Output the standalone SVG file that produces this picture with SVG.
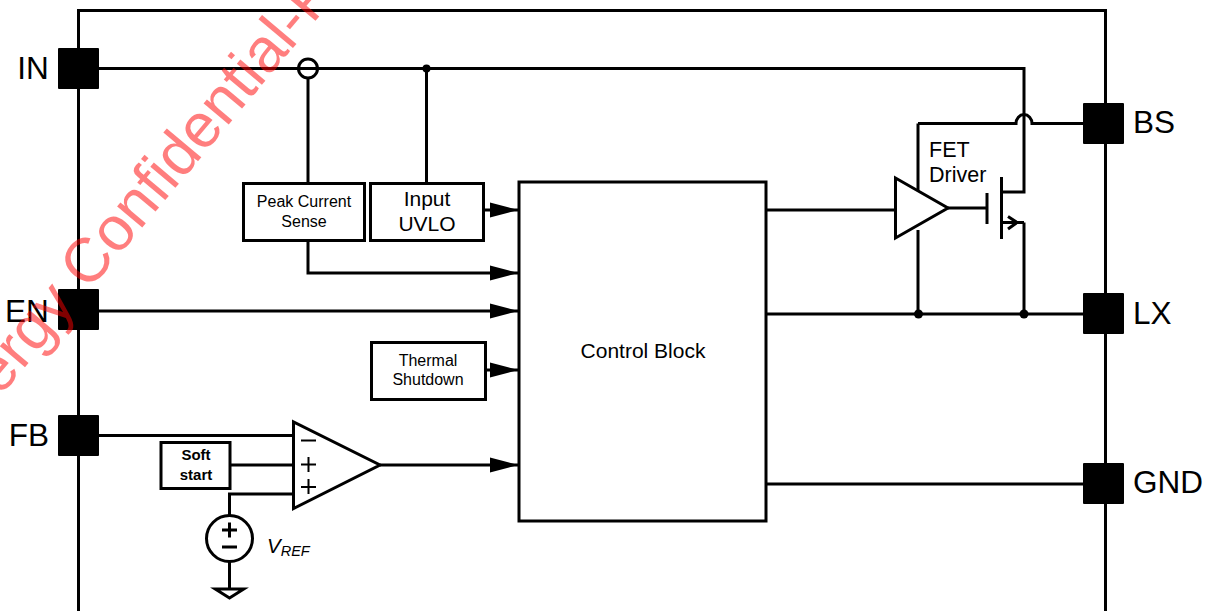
<svg xmlns="http://www.w3.org/2000/svg" width="1212" height="611" viewBox="0 0 1212 611">
<defs>
<marker id="arr" markerUnits="userSpaceOnUse" markerWidth="30" markerHeight="18" refX="28" refY="9" orient="auto"><path d="M0 1.500L28 9L0 16.500Z" fill="#000"/></marker>
</defs>
<style>
text{font-family:"Liberation Sans",Arial,sans-serif;fill:#000}
.w{fill:none;stroke:#000;stroke-width:3}
.t{fill:none;stroke:#000;stroke-width:2}
.a{marker-end:url(#arr)}
.box{fill:#fff;stroke:#000;stroke-width:3}
.pad{fill:#000}
.pin{font-size:31.500px}
.dot{fill:#000}
.m{text-anchor:middle}
</style>
<rect width="1212" height="611" fill="#fff"/>
<g id="connectors">
<path class="w" d="M78.500 611V10.500H1105.500V611"/>
<path class="w" d="M98 68.500H1024V192H1002"/>
<path class="w" d="M918 123.500H1016A8 9 0 0 1 1032 123.500H1084"/>
<path class="w" d="M918 123.500V194"/>
<path class="w" d="M918 230V314"/>
<path class="w" d="M1024 222.500V314"/>
<path class="w" d="M1002 222.500H1024"/>
<path class="w" d="M1008 216.500L1017 222.500L1008 229"/>
<path class="w" d="M766 314H1084"/>
<path class="w" d="M766 484H1084"/>
<path class="w" d="M766 210H896"/>
<path class="w" d="M948 208H987"/>
<path class="w" d="M987 193V224"/>
<path class="w" d="M1001.500 177V239"/>
<path class="w" d="M308 79V184"/>
<path class="w" d="M426.500 68V184"/>
<path class="w a" d="M483 210H518"/>
<path class="w a" d="M308 240V273H518"/>
<path class="w a" d="M98 311H518"/>
<path class="w a" d="M485 370H518"/>
<path class="w a" d="M380 465H518"/>
<path class="w" d="M98 435.500H293"/>
<path class="w" d="M230 465H293"/>
<path class="w" d="M293 494H229.500V516"/>
<path class="w" d="M229.500 561V590"/>
</g>
<g id="pin-IN"><rect class="pad" x="58" y="48" width="41" height="41" rx="1"/><text class="pin" x="33" y="79" text-anchor="middle">IN</text></g>
<g id="pin-EN"><rect class="pad" x="58" y="289" width="41" height="41" rx="1"/><text class="pin" x="27" y="322" text-anchor="middle">EN</text></g>
<g id="pin-FB"><rect class="pad" x="58" y="415" width="41" height="41" rx="1"/><text class="pin" x="29" y="446" text-anchor="middle">FB</text></g>
<g id="pin-BS"><rect class="pad" x="1083" y="103" width="41" height="41" rx="1"/><text class="pin" x="1133" y="133">BS</text></g>
<g id="pin-LX"><rect class="pad" x="1083" y="293" width="41" height="41" rx="1"/><text class="pin" x="1133" y="324">LX</text></g>
<g id="pin-GND"><rect class="pad" x="1083" y="463" width="41" height="41" rx="1"/><text class="pin" x="1133" y="493">GND</text></g>
<g id="sense-node"><circle cx="308" cy="68.500" r="9.500" fill="none" stroke="#000" stroke-width="3"/></g>
<g id="junctions"><circle class="dot" cx="426.500" cy="68.500" r="4"/><circle class="dot" cx="918.500" cy="314" r="4.500"/><circle class="dot" cx="1024" cy="314" r="4.500"/></g>
<g id="peak-current-sense"><rect class="box" x="243.500" y="183.500" width="121" height="57"/><text class="m" x="304" y="207" font-size="16">Peak Current</text><text class="m" x="304" y="227" font-size="16">Sense</text></g>
<g id="input-uvlo"><rect class="box" x="370.500" y="183.500" width="113" height="57"/><text class="m" x="427" y="206" font-size="21">Input</text><text class="m" x="427" y="231" font-size="21">UVLO</text></g>
<g id="thermal-shutdown"><rect class="box" x="371.500" y="342.500" width="114" height="57"/><text class="m" x="428" y="366" font-size="16">Thermal</text><text class="m" x="428" y="385" font-size="16">Shutdown</text></g>
<g id="control-block"><rect class="box" x="519" y="182" width="247" height="339"/><text class="m" x="643" y="358" font-size="21">Control Block</text></g>
<g id="soft-start"><rect class="box" x="161" y="442.500" width="69" height="46"/><text class="m" x="196" y="460" font-size="15" font-weight="bold">Soft</text><text class="m" x="196" y="480" font-size="15" font-weight="bold">start</text></g>
<g id="comparator"><path class="box" d="M293.500 422V508.500L380 465Z"/><path class="t" d="M301 440.500H316M301 464.500H316M308.500 457V472M301 487H316M308.500 479V494"/></g>
<g id="fet-driver"><path class="box" d="M895.500 178V238L948 208Z"/><text x="929" y="157" font-size="21.500">FET</text><text x="929" y="182" font-size="21.500">Driver</text></g>
<g id="vref"><circle cx="229.500" cy="538.500" r="23" fill="#fff" stroke="#000" stroke-width="3"/><path class="w" d="M222 530H237M229.500 522.500V537.500M222 547H237"/><path class="w" d="M220 589H239L229.500 598Z" transform="translate(229.500 0) scale(1.500 1) translate(-229.500 0)" vector-effect="non-scaling-stroke"/><text x="267" y="553" font-size="20.500" font-style="italic">V<tspan font-size="14.500" dy="3">REF</tspan></text></g>
<g id="watermark"><text x="0" y="397" font-size="62" opacity=".5" style="fill:#ff0000" transform="rotate(-50 0 397)">ergy Confidential-P</text></g>
</svg>
